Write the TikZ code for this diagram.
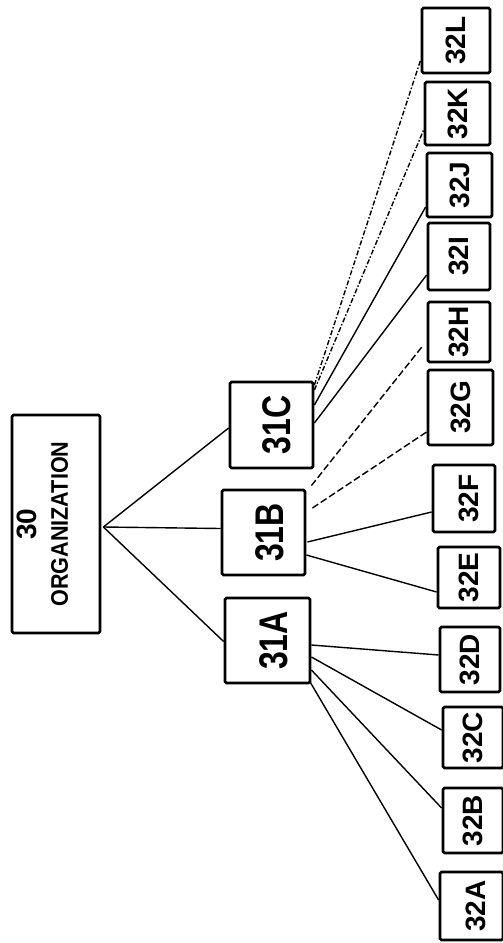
\documentclass[tikz,border=0pt]{standalone}
\usepackage{fontspec}
\setmainfont{Liberation Sans}
\usepackage{graphicx}
\usetikzlibrary{calc}
\newcommand\rtxt[1]{\rotatebox{90}{#1}}
\newcommand\rnar[1]{\rotatebox{90}{\scalebox{0.8}[1]{#1}}}
\begin{document}
\begin{tikzpicture}[x=1pt,y=-1pt,
  box/.style={draw,line width=2.8pt,inner sep=0pt,rounded corners=1.5pt},
  link/.style={line width=1.4pt},
  dashdot/.style={link,dash pattern=on 5pt off 2pt on 1.5pt off 2pt},
  dashedlink/.style={link,dash pattern=on 7pt off 3pt},
  rootbox/.style={box,font=\fontsize{24}{30}\selectfont\bfseries},
  lvone/.style={box,font=\fontsize{40}{40}\selectfont\bfseries},
  leaf/.style={box,font=\fontsize{28}{28}\selectfont\bfseries}]
\fill[white] (0,0) rectangle (503,943);
\useasboundingbox (0,0) rectangle (503,943);

% root
\node[rootbox,minimum width=88pt,minimum height=218pt] (r) at (56,524)
  {\rtxt{\begin{tabular}{@{}c@{}}{\fontsize{28}{30}\selectfont 30}\\[2pt]\scalebox{0.9}[1]{ORGANIZATION}\end{tabular}}\hspace*{20pt}};

% level one
\node[lvone,minimum width=83pt,minimum height=86pt] (c31C) at (271.5,425) {\hspace*{10pt}\rnar{31C}};
\node[lvone,minimum width=83pt,minimum height=85pt] (c31B) at (263.5,532.5) {\hspace*{12pt}\rnar{31B}};
\node[lvone,minimum width=85pt,minimum height=85pt] (c31A) at (267.5,640.5) {\hspace*{12pt}\rnar{31A}};

% leaves
\node[leaf,minimum width=68pt,minimum height=65pt] (c32L) at (456,40.5) {\rtxt{32L}};
\node[leaf,minimum width=65pt,minimum height=63pt] (c32K) at (457.5,113.5) {\rtxt{32K}};
\node[leaf,minimum width=65pt,minimum height=64pt] (c32J) at (459.5,185) {\rtxt{32J}};
\node[leaf,minimum width=62pt,minimum height=67pt] (c32I) at (459,256.5) {\rtxt{32I}};
\node[leaf,minimum width=62pt,minimum height=60pt] (c32H) at (459,332) {\rtxt{32H}};
\node[leaf,minimum width=65pt,minimum height=75pt] (c32G) at (460.5,407.5) {\rtxt{32G}};
\node[leaf,minimum width=62pt,minimum height=67pt] (c32F) at (464,498.5) {\hspace*{10pt}\rtxt{32F}};
\node[leaf,minimum width=62pt,minimum height=61pt] (c32E) at (469,577.5) {\rtxt{32E}};
\node[leaf,minimum width=60pt,minimum height=65pt] (c32D) at (470,659.5) {\rtxt{32D}};
\node[leaf,minimum width=60pt,minimum height=61pt] (c32C) at (473,737.5) {\rtxt{32C}};
\node[leaf,minimum width=60pt,minimum height=65pt] (c32B) at (473,820.5) {\rtxt{32B}};
\node[leaf,minimum width=63pt,minimum height=68pt] (c32A) at (471.5,906) {\hspace*{8pt}\rtxt{32A}};

% root to level one
\coordinate (rp) at ($(r.east)+(2,3)$);
\draw[link] (rp) -- ($(c31C.west)+(0,3)$);
\draw[link] (rp) -- ($(c31B.west)+(0,-4)$);
\draw[link] (rp) -- ($(c31A.west)+(0,1)$);

% 31A
\draw[link] ($(c31A.east)+(0,4.5)$) -- ($(c32D.west)+(0,-4.5)$);
\draw[link] ($(c31A.east)+(0,16.5)$) -- ($(c32C.west)+(0,-7.5)$);
\draw[link] ($(c31A.east)+(0,29.5)$) -- ($(c32B.west)+(0,-12.5)$);
\draw[link] ($(c31A.east)+(-1,42)$) -- ($(c32A.west)+(0,-6)$);

% 31B
\draw[link] ($(c31B.east)+(0,22.5)$) -- ($(c32E.west)+(0,14.5)$);
\draw[link] ($(c31B.east)+(1,9.5)$) -- ($(c32F.west)+(0,13.5)$);
\draw[dashedlink] ($(c31B.east)+(6,-24.5)$) -- ($(c32G.west)+(0,24.5)$);
\draw[dashedlink] ($(c31B.north east)+(5,-3)$) -- ($(c32H.west)+(-4,14)$);

% 31C
\draw[dashdot] ($(c31C.east)+(0,-40)$) -- ($(c32L.west)+(0,19.5)$);
\draw[dashdot] ($(c31C.east)+(0,-35)$) -- ($(c32K.west)+(0,16.5)$);
\draw[link] ($(c31C.east)+(0,-20)$) -- ($(c32J.west)+(0,22)$);
\draw[link] ($(c31C.east)+(0,-2)$) -- ($(c32I.west)+(0,18.5)$);
\end{tikzpicture}
\end{document}
